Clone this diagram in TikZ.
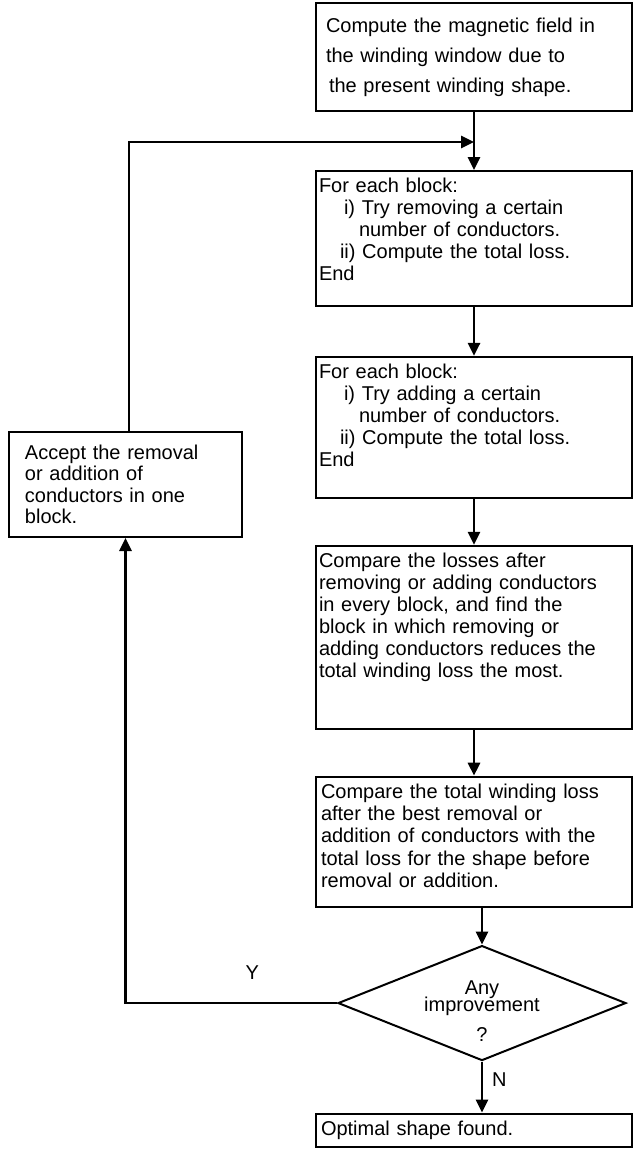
\documentclass[tikz,border=0pt]{standalone}
\usepackage{fontspec}
\setmainfont{Liberation Sans}
\usetikzlibrary{arrows.meta,positioning,shapes.geometric}

\begin{document}
\begin{tikzpicture}[>={Triangle[width=6pt,length=6.5pt]},font=\fontsize{10}{11}\selectfont,
box/.style={draw,line width=1pt,align=left,text width=155pt,inner xsep=1.5pt,inner ysep=3.5pt},
arr/.style={->,line width=1.4pt}]
\useasboundingbox (0,0) rectangle (317pt,-579pt);
\node[box,anchor=north,text width=148pt,inner xsep=5pt,minimum height=54pt,font=\fontsize{10}{15}\selectfont] (field) at (237pt,-1pt) {Compute the magnetic field in\\the winding window due to\\\hspace*{1.5pt}the present winding shape.};
\node[box,below=29pt of field,text depth=53.2pt] (remove) {For each block:\\\hspace*{12.5pt}i) Try removing a certain\\\hspace*{20pt}number of conductors.\\\hspace*{10.5pt}ii) Compute the total loss.\\End};
\node[box,below=24.5pt of remove,text depth=56.2pt] (add) {For each block:\\\hspace*{12.5pt}i) Try adding a certain\\\hspace*{20pt}number of conductors.\\\hspace*{10.5pt}ii) Compute the total loss.\\End};
\node[box,below=23pt of add,text depth=77.2pt] (best) {Compare the losses after\\removing or adding conductors\\in every block, and find the\\block in which removing or\\adding conductors reduces the\\total winding loss the most.};
\node[box,below=23pt of best,text depth=50.7pt,text width=153pt,inner xsep=2.5pt,font=\fontsize{10}{11.2}\selectfont] (total) {Compare the total winding loss\\after the best removal or\\addition of conductors with the\\total loss for the shape before\\removal or addition.};
\node[draw,diamond,line width=1pt,minimum width=144pt,minimum height=57.5pt,inner sep=0pt,below=18.5pt of total,xshift=4pt,
label={[align=center,yshift=-4pt]center:{Any\\[-2.5pt]improvement\\[4pt]?}}] (better) {};
\node[box,below=25.5pt of better,xshift=-4pt,text depth=2.7pt,text width=153pt,inner xsep=2.5pt] (found) {Optimal shape found.};
\node[box,text width=100.5pt,inner xsep=8pt,minimum height=52.5pt,font=\fontsize{10}{10.75}\selectfont] (accept) at (62.75pt,-242.25pt) {Accept the removal\\or addition of\\conductors in one\\block.};
\coordinate[below=15pt of field] (join);
\draw[arr] (field) -- (remove);
\draw[arr] (remove) -- (add);
\draw[arr] (add) -- (best);
\draw[arr] (best) -- (total);
\draw[arr] (total.south -| better.north) -- (better.north);
\draw[arr] (better.south) -- node[pos=0.35,right=1pt]{N} (better.south |- found.north);
\draw[arr] (better.west) -| node[pos=0.2,above=8pt]{Y} (accept.south);
\draw[arr] ([xshift=1.75pt]accept.north) |- (join);
\end{tikzpicture}
\end{document}
